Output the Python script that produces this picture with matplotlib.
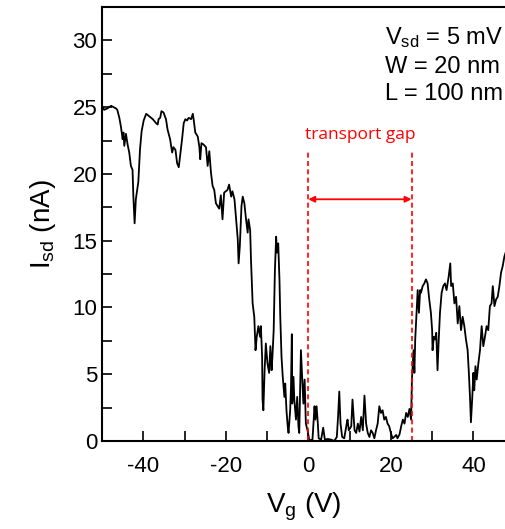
import matplotlib.pyplot as plt
from matplotlib.ticker import MultipleLocator

plt.rcParams['font.family'] = ['Liberation Sans', 'DejaVu Sans']
plt.rcParams['mathtext.fontset'] = 'custom'
plt.rcParams['mathtext.rm'] = 'Liberation Sans'
plt.rcParams['mathtext.default'] = 'regular'
plt.rcParams['axes.unicode_minus'] = False

# gate voltage (V) and source-drain current (nA)
vg = [-50.0, -49.5, -48.7, -47.8, -46.6, -46.3, -45.8, -45.4, -45.0, -44.8,
      -44.6, -44.2, -43.8, -43.4, -43.0, -42.6, -42.4, -42.1, -41.8, -41.2,
      -40.8, -40.4, -39.9, -39.3, -38.5, -37.7, -36.9, -36.5, -36.3, -35.9,
      -35.6, -35.1, -34.5, -34.1, -33.5, -33.0, -32.7, -32.2, -31.8, -31.4,
      -31.1, -30.6, -30.2, -29.8, -29.4, -29.0, -28.4, -28.0, -27.8, -27.4,
      -26.8, -26.4, -26.2, -25.9, -25.4, -24.8, -24.4, -24.0, -23.6, -23.2,
      -22.8, -22.4, -22.0, -21.6, -21.2, -20.8, -20.4, -19.6, -19.2, -18.7,
      -18.4, -17.9, -17.5, -17.1, -16.9, -16.6, -16.2, -15.9, -15.5, -15.1,
      -14.7, -14.5, -14.1, -13.9, -13.5, -13.1, -12.8, -12.5, -12.1, -11.7,
      -11.5, -11.2, -11.1, -10.9, -10.6, -10.3, -9.9, -9.5, -9.2, -8.9,
      -8.7, -8.4, -8.1, -7.8, -7.6, -7.3, -7.0, -6.8, -6.5, -6.2,
      -5.8, -5.6, -5.3, -5.0, -4.8, -4.4, -4.2, -4.0, -3.9, -3.6,
      -3.4, -3.0, -2.7, -2.4, -2.2, -1.8, -1.5, -1.2, -0.9, -0.6,
      -0.2, 0.1, 0.2, 1.0, 1.5, 1.7, 2.0, 2.3, 2.5, 3.1,
      3.6, 4.0, 4.7, 5.5, 6.3, 6.9, 7.2, 7.5, 7.8, 8.2,
      8.7, 9.3, 9.5, 9.8, 10.4, 10.7, 11.2, 11.6, 12.0, 12.4,
      12.8, 13.2, 13.6, 14.0, 14.4, 14.8, 15.2, 15.6, 16.0, 16.4,
      16.8, 17.2, 17.6, 18.0, 18.4, 18.8, 19.2, 19.6, 20.0, 20.4,
      20.8, 21.3, 21.6, 22.1, 22.5, 22.9, 23.3, 23.7, 24.1, 24.5,
      24.9, 25.1, 25.5, 25.7, 25.9, 26.3, 26.5, 26.8, 27.1, 27.3,
      27.7, 28.1, 28.5, 28.9, 29.3, 29.7, 30.0, 30.1, 30.4, 30.7,
      31.0, 31.3, 31.6, 31.9, 32.3, 32.7, 33.1, 33.5, 34.0, 34.4,
      34.6, 35.0, 35.4, 35.8, 36.2, 36.6, 37.0, 37.4, 37.8, 38.2,
      38.6, 38.9, 39.2, 39.4, 39.7, 40.0, 40.2, 40.5, 40.8, 41.2,
      41.6, 42.0, 42.4, 42.8, 43.2, 43.6, 44.0, 44.4, 44.7, 45.1,
      45.5, 45.9, 46.3, 46.7, 47.1, 47.5, 47.8]
isd = [25.1, 24.8, 24.9, 25.1, 24.9, 24.8, 24.2, 23.5, 22.6, 23.1,
       22.1, 23.0, 22.2, 21.6, 20.6, 20.3, 18.3, 16.3, 18.1, 19.4,
       21.8, 23.2, 24.0, 24.5, 24.3, 24.1, 23.8, 23.7, 24.1, 24.2,
       24.7, 24.6, 24.1, 23.3, 22.6, 21.6, 22.0, 21.8, 20.8, 20.5,
       21.3, 22.6, 23.8, 24.1, 24.0, 24.2, 24.1, 24.5, 24.1, 23.1,
       22.8, 22.0, 21.1, 22.3, 22.2, 22.0, 20.6, 21.7, 20.1, 19.1,
       18.8, 17.8, 17.6, 17.4, 18.4, 16.6, 18.6, 18.8, 19.2, 18.3,
       18.7, 18.1, 16.6, 15.1, 13.3, 14.6, 17.6, 18.3, 17.8, 16.6,
       15.6, 16.6, 15.8, 13.6, 10.3, 9.3, 6.8, 7.8, 8.6, 7.8,
       8.6, 6.3, 3.1, 2.3, 5.3, 7.3, 5.8, 5.1, 7.1, 5.3,
       6.3, 8.3, 12.8, 15.3, 14.1, 14.8, 12.1, 9.3, 6.3, 4.8,
       3.3, 4.3, 2.3, 1.1, 0.6, 2.3, 4.1, 8.0, 2.8, 4.8,
       3.1, 1.6, 3.3, 1.1, 0.6, 6.8, 4.8, 2.8, 4.6, 1.3,
       0.8, 0.3, 0.05, 0.1, 2.6, 1.6, 2.6, 1.3, 0.2, 0.1,
       1.0, 0.1, 0.15, 0.1, 0.0, 0.3, 1.8, 3.7, 1.3, 0.3,
       0.2, 1.3, 1.6, 0.8, 1.1, 3.1, 0.8, 0.6, 1.3, 0.7,
       1.8, 0.8, 3.4, 1.3, 0.6, 0.3, 0.8, 0.6, 0.2, 0.8,
       1.3, 2.6, 2.1, 2.3, 1.6, 1.8, 1.3, 1.1, 0.6, 0.2,
       0.3, 0.45, 0.2, 0.5, 1.1, 1.6, 1.3, 2.1, 1.8, 2.4,
       1.6, 4.6, 6.8, 5.1, 7.6, 10.1, 11.3, 9.6, 11.3, 11.1,
       11.6, 11.8, 12.1, 11.8, 10.6, 9.6, 8.3, 6.8, 7.8, 7.6,
       8.1, 5.3, 7.6, 9.6, 11.1, 11.6, 11.8, 11.3, 12.3, 13.3,
       11.6, 11.8, 10.3, 10.8, 8.8, 10.1, 8.3, 9.3, 8.6, 7.6,
       6.8, 5.1, 3.1, 1.4, 3.1, 5.1, 3.8, 5.6, 4.6, 5.8,
       6.8, 8.6, 7.1, 7.8, 8.6, 8.3, 10.1, 10.3, 11.6, 10.1,
       10.6, 10.8, 11.6, 12.6, 13.1, 13.8, 14.1]

gap_start, gap_end = 0, 25
gap_top = 21.7
arrow_y = 18.1
info_lines = ['V$_{sd}$ = 5 mV', 'W = 20 nm', 'L = 100 nm']

fig = plt.figure(figsize=(5.06, 5.29), dpi=100)
ax = fig.add_axes([0.2016, 0.1664, 0.7984, 0.8204])

ax.plot(vg, isd, color='black', lw=1.3)

# transport gap markers
for xv in (gap_start, gap_end):
    ax.plot([xv, xv], [0, gap_top], color='red', ls='--', lw=1.2, dashes=(3, 2))
ax.annotate('', xy=(gap_start, arrow_y), xytext=(gap_end, arrow_y),
            arrowprops=dict(arrowstyle='<|-|>', color='red', lw=1.3,
                            mutation_scale=9, shrinkA=0, shrinkB=0))
ax.text((gap_start + gap_end) / 2, 22.3, 'transport gap', color='red',
        ha='center', va='bottom', fontsize=12.5, family=['Open Sans', 'DejaVu Sans'])

ax.text(0.70, 0.958, '\n'.join(info_lines), transform=ax.transAxes,
        ha='left', va='top', fontsize=17, linespacing=1.33)

ax.set_xlim(-50, 47.9)
ax.set_ylim(0, 32.5)
ax.xaxis.set_major_locator(MultipleLocator(20))
ax.xaxis.set_minor_locator(MultipleLocator(10))
ax.yaxis.set_major_locator(MultipleLocator(5))
ax.yaxis.set_minor_locator(MultipleLocator(2.5))
ax.tick_params(which='both', direction='in', length=7, width=1.2,
               labelsize=16, top=False, right=False)
ax.tick_params(axis='x', pad=11)
for side in ('left', 'bottom', 'top'):
    ax.spines[side].set_linewidth(1.5)
ax.spines['right'].set_visible(False)

ax.set_xlabel('V$_g$ (V)', fontsize=20, labelpad=10)
ax.set_ylabel('I$_{sd}$ (nA)', fontsize=20, labelpad=10)

fig.savefig('out.png', dpi=100)
